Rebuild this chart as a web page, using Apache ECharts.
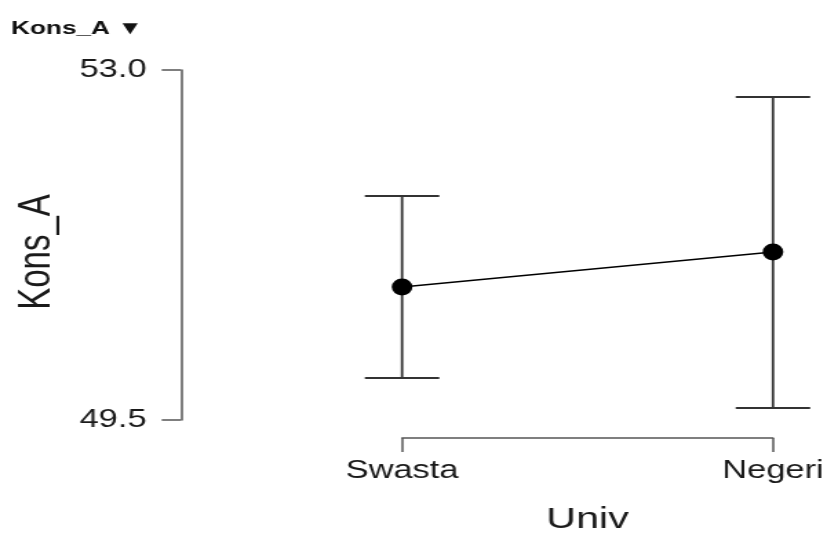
<!DOCTYPE html>
<html>
<head>
    <meta charset="utf-8">
</head>
<body style="margin: 0; overflow: hidden; background: #fff">
<!-- the reference is stretched sideways, so the chart is drawn narrow and scaled in x -->
<div id="container" style="width: 600px; height: 533px; transform: scaleX(1.3783); transform-origin: 0 0"></div>
<script type="text/javascript" src="https://cdn.jsdelivr.net/npm/echarts@6/dist/echarts.min.js"></script>
<script type="text/javascript">
  const groups = ['Swasta', 'Negeri'];
  const means = [50.83, 51.18];
  const lowers = [49.92, 49.62];
  const uppers = [51.74, 52.73];
  const yTicks = [49.5, 53.0];

  const font = "'Liberation Sans', Arial, sans-serif";
  const ink = '#1a1a1a';

  var dom = document.getElementById('container');
  var myChart = echarts.init(dom);

  var option = {
    animation: false,
    title: {
      text: 'Kons_A ▼',
      left: 8,
      top: 19,
      padding: 0,
      textStyle: { fontFamily: font, fontSize: 19, fontWeight: 'bold', color: '#111' }
    },
    grid: { left: 291.7, right: 39.2, top: 70, bottom: 113, outerBoundsMode: 'none' },
    xAxis: {
      type: 'category',
      data: groups,
      boundaryGap: false,
      offset: 18,
      axisLine: { lineStyle: { color: '#555', width: 1.5 } },
      axisTick: { show: true, length: 14, lineStyle: { color: '#555', width: 1.5 } },
      axisLabel: { margin: 21, fontFamily: font, fontSize: 25, color: ink },
      splitLine: { show: false },
      name: 'Univ',
      nameLocation: 'middle',
      nameGap: 67,
      nameTextStyle: { fontFamily: font, fontSize: 30, color: ink }
    },
    yAxis: {
      type: 'value',
      min: 49.5,
      max: 53.0,
      offset: 160.4,
      axisLine: { show: true, lineStyle: { color: '#555', width: 1.5 } },
      axisTick: { show: true, length: 14, customValues: yTicks, lineStyle: { color: '#555', width: 1.5 } },
      axisLabel: {
        margin: 25,
        customValues: yTicks,
        fontFamily: font,
        fontSize: 25,
        color: ink,
        formatter: v => v.toFixed(1)
      },
      splitLine: { show: false },
      name: 'Kons_A',
      nameLocation: 'middle',
      nameRotate: 90,
      nameGap: 88,
      nameTextStyle: { fontFamily: font, fontSize: 33, color: ink, padding: [0, 14, 0, 0] }
    },
    series: [
      {
        type: 'custom',
        clip: false,
        data: groups.map((g, i) => [i, lowers[i], uppers[i]]),
        renderItem: function (params, api) {
          const lo = api.coord([api.value(0), api.value(1)]);
          const hi = api.coord([api.value(0), api.value(2)]);
          const w = 27;
          const style = { stroke: '#333', lineWidth: 1.8 };
          return {
            type: 'group',
            children: [
              { type: 'line', shape: { x1: hi[0], y1: hi[1], x2: lo[0], y2: lo[1] }, style: style },
              { type: 'line', shape: { x1: hi[0] - w, y1: hi[1], x2: hi[0] + w, y2: hi[1] }, style: style },
              { type: 'line', shape: { x1: lo[0] - w, y1: lo[1], x2: lo[0] + w, y2: lo[1] }, style: style }
            ]
          };
        }
      },
      {
        type: 'line',
        data: means,
        clip: false,
        symbol: 'circle',
        symbolSize: [15, 17],
        itemStyle: { color: '#000' },
        lineStyle: { color: '#000', width: 1.6 },
        z: 5
      }
    ]
  };

  myChart.setOption(option);
</script>
</body>
</html>
